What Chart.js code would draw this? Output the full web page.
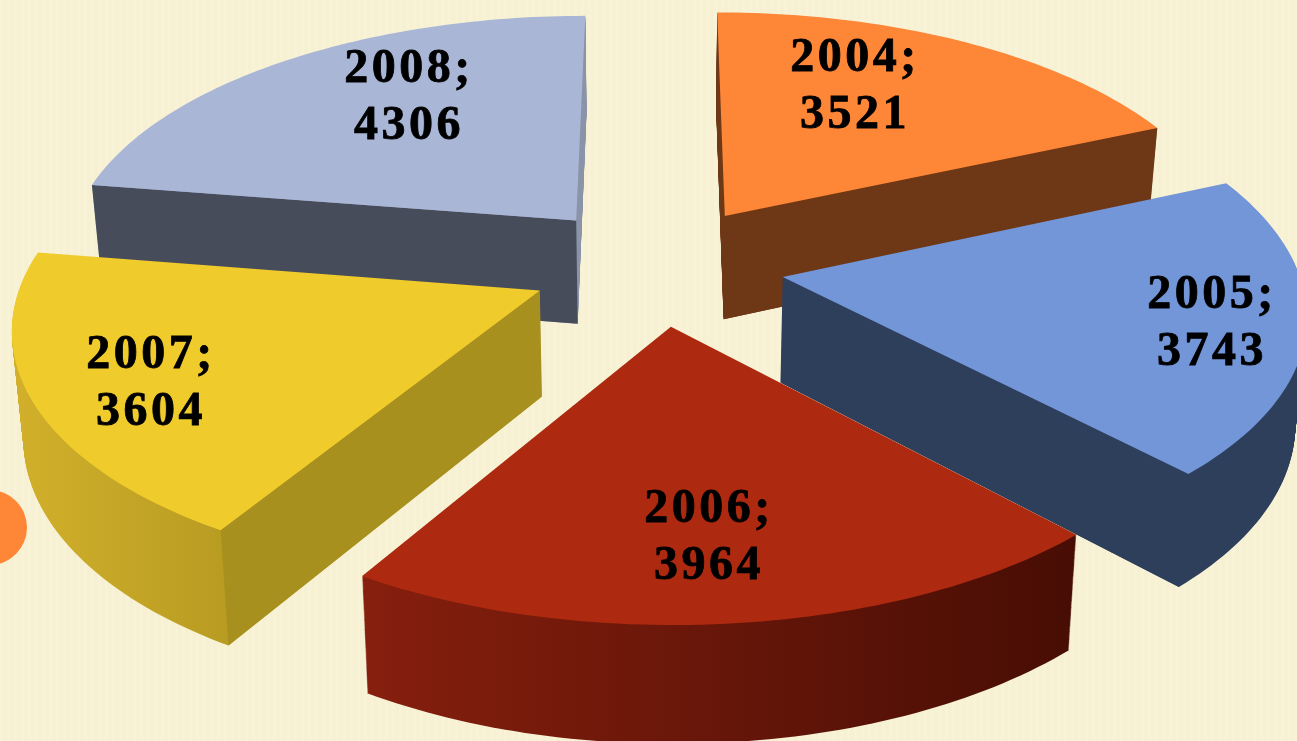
<!DOCTYPE html>
<html>
<head>
<meta charset="utf-8">
<title>2004-2008</title>
<script src="https://cdn.jsdelivr.net/npm/chart.js@4"></script>
<style>
    html, body { margin: 0; padding: 0; width: 1297px; height: 741px; overflow: hidden; }
    body {
        position: relative;
        background-color: #f8f2d5;
        background-image: repeating-linear-gradient(90deg, rgba(255,255,255,0.06) 0 3px, rgba(220,205,150,0.035) 3px 7px);
    }
    #bullet { position: absolute; left: -48px; top: 490px; width: 75px; height: 75px; border-radius: 50%; background: #fe8637; }
    #pie { position: absolute; left: 0; top: 0; filter: blur(0.4px); }
</style>
</head>
<body>
<div id="bullet"></div>
<canvas id="pie" width="1297" height="741"></canvas>
<script>
// Chart values
const years = ['2004', '2005', '2006', '2007', '2008'];
const values = [3521, 3743, 3964, 3604, 4306];

// Slice colours
const topColors = ['#fe8637', '#7396d8', '#ad2910', '#f0cb2c', '#a9b6d6'];
const flatWallColors = ['#6e3716', '#2e3f5b', null, '#a8901e', '#474c5a'];
const curveLeftColors = ['#6e3716', '#2e3f5b', '#861f0e', '#d2b02b', '#8a93a8'];
const curveRightColors = ['#6e3716', '#2e3f5b', '#470d04', '#b99c22', '#8a93a8'];

// Which cut side of each slice faces the viewer
const flatWallSide = ['end', 'end', null, 'start', 'start'];

// Back to front
const drawOrder = [4, 0, 3, 1, 2];

// Label anchors: centre x and first baseline
const labelX = [855, 1212, 709, 151, 409];
const labelY = [71, 308, 522, 368, 82];
const labelLineGap = 57;

// Camera used to lay the pie on the table
const view = { cx: 657, cy: 265, fx: 514, fy: 242, persp: 0.13, depth: 105, shrink: 0.018, explode: 0.248 };

// Table position (radius units) + level (0 top, 1 bottom) -> screen
function project(u, v, level) {
    const d = 1 - view.persp * v;
    const s = 1 - view.shrink * level;
    return {
        x: view.cx + view.fx * s * u / d,
        y: view.cy + (view.fy * s * v + view.depth * level) / d
    };
}

// Stands in for the canvas context so ArcElement.draw() lands on the tilted table
class TiltedContext {
    constructor(ctx, el, level, paint) {
        const mid = (el.startAngle + el.endAngle) / 2;
        this.ctx = ctx;
        this.el = el;
        this.level = level;
        this.paint = paint;
        this.shiftU = view.explode * Math.cos(mid);
        this.shiftV = view.explode * Math.sin(mid);
    }
    place(x, y) {
        const r = this.el.outerRadius;
        const u = (x - this.el.x) / r + this.shiftU;
        const v = (y - this.el.y) / r + this.shiftV;
        return project(u, v, this.level);
    }
    save() {}
    restore() {}
    translate() {}
    setLineDash() {}
    stroke() {}
    clip() {}
    beginPath() { this.ctx.beginPath(); }
    closePath() { this.ctx.closePath(); }
    moveTo(x, y) { const p = this.place(x, y); this.ctx.moveTo(p.x, p.y); }
    lineTo(x, y) { const p = this.place(x, y); this.ctx.lineTo(p.x, p.y); }
    arc(x, y, r, a0, a1) {
        const steps = r > 0 ? Math.max(2, Math.ceil(Math.abs(a1 - a0) / 0.02)) : 1;
        for (let i = 0; i <= steps; i++) {
            const a = a0 + (a1 - a0) * i / steps;
            this.lineTo(x + r * Math.cos(a), y + r * Math.sin(a));
        }
    }
    fill() {
        this.ctx.fillStyle = this.paint || this.fillStyle;
        this.ctx.fill();
    }
}

// Screen position of a point on the slice rim
function rimPoint(el, angle, radius, level) {
    const mid = (el.startAngle + el.endAngle) / 2;
    return project(
        radius * Math.cos(angle) + view.explode * Math.cos(mid),
        radius * Math.sin(angle) + view.explode * Math.sin(mid),
        level
    );
}

function curveGradient(ctx, el, i) {
    let minX = Infinity, maxX = -Infinity;
    for (let k = 0; k <= 24; k++) {
        const a = el.startAngle + (el.endAngle - el.startAngle) * k / 24;
        const p = rimPoint(el, a, 1, 0);
        minX = Math.min(minX, p.x);
        maxX = Math.max(maxX, p.x);
    }
    const g = ctx.createLinearGradient(minX, 0, maxX, 0);
    g.addColorStop(0, curveLeftColors[i]);
    g.addColorStop(1, curveRightColors[i]);
    return g;
}

function drawFlatWall(ctx, el, i) {
    if (!flatWallSide[i]) return;
    const angle = flatWallSide[i] === 'start' ? el.startAngle : el.endAngle;
    const corners = [
        rimPoint(el, angle, 0, 0),
        rimPoint(el, angle, 1, 0),
        rimPoint(el, angle, 1, 1),
        rimPoint(el, angle, 0, 1)
    ];
    ctx.beginPath();
    corners.forEach(p => ctx.lineTo(p.x, p.y));
    ctx.closePath();
    ctx.fillStyle = flatWallColors[i];
    ctx.fill();
}

const pie3d = {
    id: 'pie3d',
    beforeDatasetDraw(chart) {
        const ctx = chart.ctx;
        const arcs = chart.getDatasetMeta(0).data;
        drawOrder.forEach(i => {
            const el = arcs[i];
            const paint = curveGradient(ctx, el, i);
            const layers = 120;
            for (let k = layers; k > 0; k--) {
                el.draw(new TiltedContext(ctx, el, k / layers, paint));
            }
            drawFlatWall(ctx, el, i);
            el.draw(new TiltedContext(ctx, el, 0, null));
        });
        return false;
    },
    afterDraw(chart) {
        const ctx = chart.ctx;
        ctx.save();
        ctx.font = 'bold 48px "Liberation Serif"';
        ctx.letterSpacing = '3.5px';
        ctx.textAlign = 'center';
        ctx.fillStyle = '#000000';
        ctx.strokeStyle = '#000000';
        ctx.lineWidth = 0.8;
        years.forEach((year, i) => {
            const line1 = year + ';';
            const line2 = String(values[i]);
            ctx.fillText(line1, labelX[i], labelY[i]);
            ctx.strokeText(line1, labelX[i], labelY[i]);
            ctx.fillText(line2, labelX[i], labelY[i] + labelLineGap);
            ctx.strokeText(line2, labelX[i], labelY[i] + labelLineGap);
        });
        ctx.restore();
    }
};

new Chart(document.getElementById('pie').getContext('2d'), {
    type: 'pie',
    data: {
        labels: years,
        datasets: [{
            data: values,
            backgroundColor: topColors,
            borderWidth: 0
        }]
    },
    options: {
        responsive: false,
        animation: false,
        plugins: {
            legend: { display: false },
            tooltip: { enabled: false }
        }
    },
    plugins: [pie3d]
});
</script>
</body>
</html>
